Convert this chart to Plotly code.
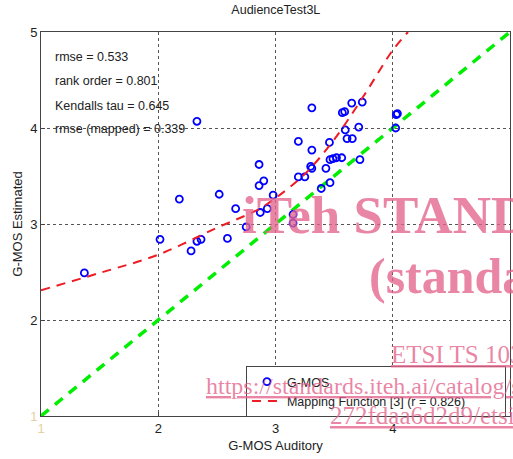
import plotly.graph_objects as go

# Scatter data: G-MOS auditory vs estimated
gmos_auditory = [1.37, 2.015, 2.18, 2.28, 2.33, 2.365, 2.33, 2.52, 2.59, 2.66, 2.75,
                 2.86, 2.90, 2.86, 2.87, 2.93, 2.98, 3.15, 3.15, 3.195, 3.195, 3.25,
                 3.30, 3.31, 3.31, 3.31, 3.39, 3.43, 3.46, 3.465, 3.465, 3.49, 3.52,
                 3.565, 3.57, 3.59, 3.595, 3.61, 3.655, 3.65, 3.72, 3.71, 3.74,
                 4.025, 4.03, 4.04]
gmos_estimated = [2.49, 2.84, 3.26, 2.72, 2.82, 2.84, 4.07, 3.31, 2.85, 3.16, 2.97,
                  3.62, 3.45, 3.40, 3.12, 3.16, 3.30, 3.10, 3.01, 3.86, 3.49, 3.49,
                  3.60, 3.58, 3.77, 4.21, 3.37, 3.58, 3.85, 3.43, 3.67, 3.68, 3.69,
                  3.69, 4.16, 4.17, 3.98, 3.89, 3.89, 4.26, 3.67, 4.01, 4.27,
                  4.00, 4.14, 4.15]

# Mapping function curve
map_x = [1.0, 1.5, 2.0, 2.5, 2.85, 3.0, 3.25, 3.5, 3.75, 4.0, 4.13]
map_y = [2.31, 2.49, 2.68, 2.96, 3.15, 3.27, 3.52, 3.88, 4.33, 4.81, 5.0]

# Identity line
ident_x = [1, 5]
ident_y = [1, 5]

tick_vals = [1, 2, 3, 4, 5]
tick_text = ['<span style="color:#e6cfa0">1</span>', '2', '3', '4', '5']

stats_lines = ["rmse = 0.533", "rank order = 0.801", "Kendalls tau = 0.645", "rmse (mapped) = 0.339"]
stats_y = [4.74, 4.49, 4.23, 3.99]

NB = "\u00a0"

fig = go.Figure()
fig.add_trace(go.Scatter(x=ident_x, y=ident_y, mode="lines", showlegend=False,
                         line=dict(color="#00ee00", width=3.5, dash="10px,8px")))
fig.add_trace(go.Scatter(x=gmos_auditory, y=gmos_estimated, mode="markers", name="G-MOS",
                         marker=dict(symbol="circle-open", size=7, color="#0000ff",
                                     line=dict(width=1.8, color="#0000ff"))))
fig.add_trace(go.Scatter(x=map_x, y=map_y, mode="lines",
                         name="Mapping Function [3] (r = 0.826)" + NB * 10,
                         line=dict(color="#ee1c25", width=2, dash="9px,7px", shape="spline")))

axis_common = dict(range=[1, 5], tickvals=tick_vals, ticktext=tick_text,
                   showgrid=True, gridcolor="#555555", griddash="dot", gridwidth=1,
                   showline=True, linecolor="#444444", linewidth=1, mirror=True,
                   ticks="inside", ticklen=4, tickcolor="#444444",
                   zeroline=False, tickfont=dict(size=13, color="#222222"))

fig.update_xaxes(**axis_common, title=dict(text="G-MOS Auditory", font=dict(size=13, color="#222222"), standoff=6))
fig.update_yaxes(**axis_common, title=dict(text="G-MOS Estimated", font=dict(size=13, color="#222222"), standoff=4))

annotations = []
for txt, yy in zip(stats_lines, stats_y):
    annotations.append(dict(x=1.10, y=yy, xref="x", yref="y", text=txt, showarrow=False,
                            xanchor="left", yanchor="middle",
                            font=dict(size=12.5, color="#222222", family="Liberation Sans, Arial, sans-serif")))

wm_color = "rgba(228,100,140,0.78)"
wm = [
    ("<b>iTeh STANDARD PREVIEW</b>", 2.70, 3.09, 53),
    ("<b>(standards.iteh.ai)</b>", 3.78, 2.46, 50),
    ("<u>ETSI TS 103 281</u>", 3.965, 1.64, 25),
    ("<u>https://standards.iteh.ai/catalog/standards/sist/</u>", 2.39, 1.31, 24),
    ("<u>272fdaa6d2d9/etsi-ts-103-281</u>", 3.45, 1.01, 25),
]
for txt, xx, yy, sz in wm:
    annotations.append(dict(x=xx, y=yy, xref="x", yref="y", text=txt, showarrow=False,
                            xanchor="left", yanchor="middle",
                            font=dict(size=sz, color=wm_color, family="Liberation Serif, Times New Roman, serif")))

fig.update_layout(
    width=513, height=459,
    margin=dict(l=41, r=3, t=32, b=43),
    paper_bgcolor="white", plot_bgcolor="white",
    font=dict(family="Liberation Sans, Arial, sans-serif", size=12, color="#222222"),
    title=dict(text="AudienceTest3L", x=0.5377, xanchor="center", y=0.978, yanchor="middle",
               font=dict(size=12.5, color="#222222")),
    legend=dict(x=0.437, y=0.13, xanchor="left", yanchor="top",
                bgcolor="white", bordercolor="#444444", borderwidth=1,
                font=dict(size=12.5, color="#222222"), tracegroupgap=0,
                itemwidth=30),
    annotations=annotations,
    showlegend=True,
)

fig.write_html("out.html")
